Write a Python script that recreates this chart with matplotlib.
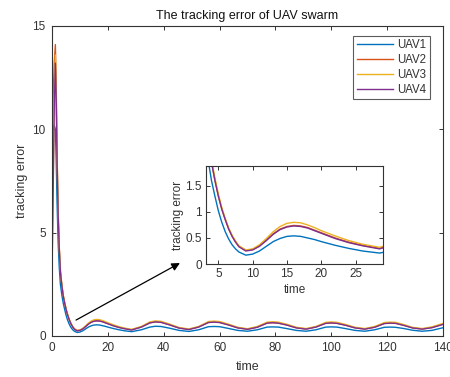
import matplotlib
matplotlib.use("Agg")
import matplotlib.pyplot as plt

plt.rcParams['font.family'] = ['Liberation Sans', 'DejaVu Sans']

# sample times and tracking error
t = [0, 0.4, 0.8, 1.2, 1.5, 1.8, 2.2, 2.6, 3, 3.5, 4, 4.5, 5, 5.5, 6, 6.5, 7, 7.5, 8,
     9, 10, 11, 12, 13, 14, 15, 16, 17, 18, 19, 20, 22, 24, 26, 28.5,
     32, 35, 37, 39, 42, 45.5, 49, 52.5, 56, 58, 60, 63, 66.5, 70, 73.5, 77, 79,
     81, 84, 87.5, 91, 94.5, 98, 100, 102, 105, 108.5, 112, 115.5, 119, 121,
     123, 126, 129, 132.5, 136, 140]

uav1 = [9.7, 10.0, 10.2, 10.0, 8.5, 6.5, 4.5, 3.3, 2.5, 2.0, 1.6, 1.3, 1.02, 0.8, 0.62, 0.48, 0.37, 0.29, 0.23,
        0.17, 0.19, 0.25, 0.34, 0.43, 0.49, 0.53, 0.54, 0.53, 0.50, 0.47, 0.43, 0.36, 0.30, 0.25, 0.21,
        0.30, 0.43, 0.47, 0.46, 0.38, 0.27, 0.22, 0.30, 0.45, 0.46, 0.45, 0.37, 0.27, 0.23, 0.30, 0.43, 0.44,
        0.43, 0.36, 0.27, 0.23, 0.30, 0.43, 0.44, 0.43, 0.36, 0.27, 0.23, 0.30, 0.42, 0.43,
        0.42, 0.36, 0.28, 0.23, 0.27, 0.40]

uav2 = [9.9, 11.5, 13.2, 14.1, 12.0, 8.9, 5.9, 4.25, 3.12, 2.46, 1.96, 1.61, 1.31, 1.06, 0.86, 0.68, 0.54, 0.43, 0.34,
        0.26, 0.28, 0.35, 0.46, 0.58, 0.67, 0.72, 0.74, 0.73, 0.70, 0.65, 0.60, 0.50, 0.42, 0.36, 0.30,
        0.44, 0.64, 0.69, 0.67, 0.55, 0.39, 0.32, 0.44, 0.66, 0.68, 0.66, 0.55, 0.40, 0.33, 0.43, 0.63, 0.65,
        0.63, 0.54, 0.40, 0.34, 0.44, 0.62, 0.64, 0.62, 0.53, 0.40, 0.34, 0.43, 0.61, 0.63,
        0.62, 0.52, 0.40, 0.34, 0.41, 0.57]

uav3 = [3.0, 7.3, 11.3, 13.6, 11.8, 8.8, 6.0, 4.3, 3.2, 2.5, 2.0, 1.65, 1.34, 1.08, 0.87, 0.69, 0.55, 0.44, 0.35,
        0.27, 0.29, 0.37, 0.49, 0.62, 0.72, 0.78, 0.80, 0.79, 0.75, 0.70, 0.64, 0.54, 0.45, 0.38, 0.32,
        0.46, 0.68, 0.73, 0.71, 0.58, 0.41, 0.34, 0.46, 0.70, 0.72, 0.70, 0.58, 0.42, 0.35, 0.46, 0.67, 0.69,
        0.67, 0.57, 0.42, 0.36, 0.46, 0.66, 0.68, 0.66, 0.56, 0.42, 0.36, 0.46, 0.65, 0.67,
        0.66, 0.55, 0.42, 0.36, 0.44, 0.61]

uav4 = [3.0, 7.0, 11.0, 13.2, 11.5, 8.5, 5.8, 4.2, 3.1, 2.45, 1.95, 1.6, 1.3, 1.05, 0.85, 0.67, 0.53, 0.42, 0.33,
        0.25, 0.27, 0.34, 0.45, 0.57, 0.66, 0.71, 0.73, 0.72, 0.69, 0.64, 0.59, 0.49, 0.41, 0.35, 0.29,
        0.43, 0.63, 0.68, 0.66, 0.54, 0.38, 0.31, 0.43, 0.65, 0.67, 0.65, 0.54, 0.39, 0.32, 0.42, 0.62, 0.64,
        0.62, 0.53, 0.39, 0.33, 0.43, 0.61, 0.63, 0.61, 0.52, 0.39, 0.33, 0.42, 0.60, 0.62,
        0.61, 0.51, 0.39, 0.33, 0.40, 0.56]

names = ['UAV1', 'UAV2', 'UAV3', 'UAV4']
colors = ['#0072BD', '#D95319', '#EDB120', '#7E2F8E']
series = [uav1, uav2, uav3, uav4]

axcol = '#333333'


def style(ax, fs):
    for s in ax.spines.values():
        s.set_color(axcol)
        s.set_linewidth(0.8)
    ax.tick_params(direction='in', top=True, right=True, colors=axcol,
                   labelcolor=axcol, labelsize=fs, length=3, width=0.7, pad=4.5)


fig = plt.figure(figsize=(4.5, 3.77), dpi=100)
ax = fig.add_axes([0.1156, 0.1088, 0.8689, 0.8223])
for y, c, n in zip(series, colors, names):
    ax.plot(t, y, color=c, lw=1.0, label=n)
ax.set_xlim(0, 140)
ax.set_ylim(0, 15)
ax.set_xticks(range(0, 141, 20))
ax.set_yticks([0, 5, 10, 15])
style(ax, 8.5)
ax.set_xlabel('time', fontsize=9, color=axcol, labelpad=5)
ax.set_ylabel('tracking error', fontsize=9, color=axcol, labelpad=3)
ax.set_title('The tracking error of UAV swarm', fontsize=9, color='#111111', pad=5)
leg = ax.legend(loc='upper right', bbox_to_anchor=(0.975, 0.98), fontsize=8.3,
                fancybox=False, handlelength=3.1, handletextpad=0.4,
                borderpad=0.3, labelspacing=0.25, borderaxespad=0.3)
leg.get_frame().set_edgecolor(axcol)
leg.get_frame().set_linewidth(0.8)
for txt in leg.get_texts():
    txt.set_color(axcol)

ax.annotate('', xy=(45.8, 3.53), xytext=(8.6, 0.77),
            arrowprops=dict(arrowstyle='-|>', color='black', lw=0.9,
                            mutation_scale=12, shrinkA=0, shrinkB=0))

ins = fig.add_axes([0.4578, 0.2997, 0.3933, 0.26])
for y, c in zip(series, colors):
    ins.plot(t, y, color=c, lw=1.0)
ins.set_xlim(3.2, 29)
ins.set_ylim(0, 1.88)
ins.set_xticks([5, 10, 15, 20, 25])
ins.set_yticks([0, 0.5, 1, 1.5])
ins.set_yticklabels(['0', '0.5', '1', '1.5'])
style(ins, 8.5)
ins.tick_params(pad=3)
ins.set_xlabel('time', fontsize=8.5, color=axcol, labelpad=3)
ins.set_ylabel('tracking error', fontsize=8.5, color=axcol, labelpad=1)

fig.savefig('out.png', dpi=100)
